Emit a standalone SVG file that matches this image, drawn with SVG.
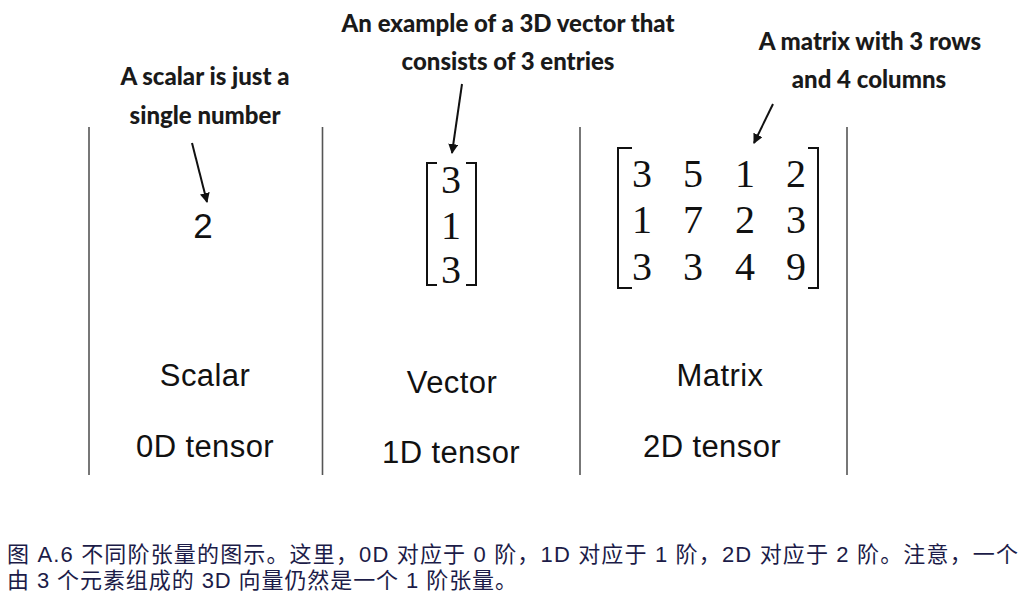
<svg xmlns="http://www.w3.org/2000/svg" width="1034" height="596" viewBox="0 0 1034 596">
<defs>
<marker id="ah" viewBox="0 0 10 10" refX="9" refY="5" markerWidth="10" markerHeight="10" markerUnits="userSpaceOnUse" orient="auto">
<path d="M0,0 L10,5 L0,10 Z" fill="#111"/>
</marker>
</defs>
<style>
.note{font-family:Lato,"Liberation Sans",sans-serif;font-weight:900;font-size:24px;fill:#1a1a1a;text-anchor:middle}
.lbl{font-family:"Liberation Sans",Arial,sans-serif;font-size:31px;letter-spacing:0.4px;fill:#111;text-anchor:middle}
.num{font-family:"Liberation Serif","DejaVu Serif",serif;font-size:40px;fill:#111;text-anchor:middle}
.sep{stroke:#555;stroke-width:1.6;fill:none}
.br{stroke:#111;stroke-width:2;fill:none}
.arr{stroke:#111;stroke-width:2;fill:none;marker-end:url(#ah)}
.cap{font-family:"Liberation Sans","Noto Sans CJK SC",sans-serif;font-size:22px;fill:#1c1c48}
</style>
<rect width="1034" height="596" fill="#fff"/>
<g id="separators">
<line class="sep" x1="89" y1="127" x2="89" y2="475"/>
<line class="sep" x1="322.5" y1="127" x2="322.5" y2="475"/>
<line class="sep" x1="580" y1="127" x2="580" y2="475"/>
<line class="sep" x1="847" y1="127" x2="847" y2="475"/>
</g>
<g id="scalar">
<text class="num" x="203" y="238" style="font-family:'Liberation Sans',Arial,sans-serif;font-size:35px">2</text>
<text class="lbl" x="205" y="386">Scalar</text>
<text class="lbl" x="205" y="457">0D tensor</text>
</g>
<g id="vector">
<path class="br" d="M437,163 H427 V285 H437"/>
<path class="br" d="M466,163 H476 V285 H466"/>
<text class="num" x="451" y="193">3</text>
<text class="num" x="451" y="239">1</text>
<text class="num" x="451" y="283">3</text>
<text class="lbl" x="452" y="393">Vector</text>
<text class="lbl" x="451" y="463">1D tensor</text>
</g>
<g id="matrix">
<path class="br" d="M632,148 H618 V288 H632"/>
<path class="br" d="M808,148 H818 V288 H808"/>
<text class="num" x="642" y="187">3</text>
<text class="num" x="693" y="187">5</text>
<text class="num" x="745" y="187">1</text>
<text class="num" x="796" y="187">2</text>
<text class="num" x="642" y="233">1</text>
<text class="num" x="693" y="233">7</text>
<text class="num" x="745" y="233">2</text>
<text class="num" x="796" y="233">3</text>
<text class="num" x="642" y="280">3</text>
<text class="num" x="693" y="280">3</text>
<text class="num" x="745" y="280">4</text>
<text class="num" x="796" y="280">9</text>
<text class="lbl" x="720" y="386">Matrix</text>
<text class="lbl" x="712" y="457">2D tensor</text>
</g>
<g id="note-scalar">
<text class="note" x="205" y="85">A scalar is just a</text>
<text class="note" x="205" y="124">single number</text>
</g>
<g id="note-vector">
<text class="note" x="508" y="32">An example of a 3D vector that</text>
<text class="note" x="508" y="70">consists of 3 entries</text>
</g>
<g id="note-matrix">
<text class="note" x="870" y="50">A matrix with 3 rows</text>
<text class="note" x="869" y="88">and 4 columns</text>
</g>
<g id="connectors">
<line class="arr" x1="192" y1="143" x2="207" y2="202"/>
<line class="arr" x1="462" y1="84" x2="452" y2="153"/>
<line class="arr" x1="773" y1="104" x2="754" y2="143"/>
</g>
<g id="caption">
<text class="cap" x="7" y="562" textLength="1011" lengthAdjust="spacing">图 A.6 不同阶张量的图示。这里，0D 对应于 0 阶，1D 对应于 1 阶，2D 对应于 2 阶。注意，一个</text>
<text class="cap" x="7" y="588" textLength="510" lengthAdjust="spacing">由 3 个元素组成的 3D 向量仍然是一个 1 阶张量。</text>
</g>
</svg>
